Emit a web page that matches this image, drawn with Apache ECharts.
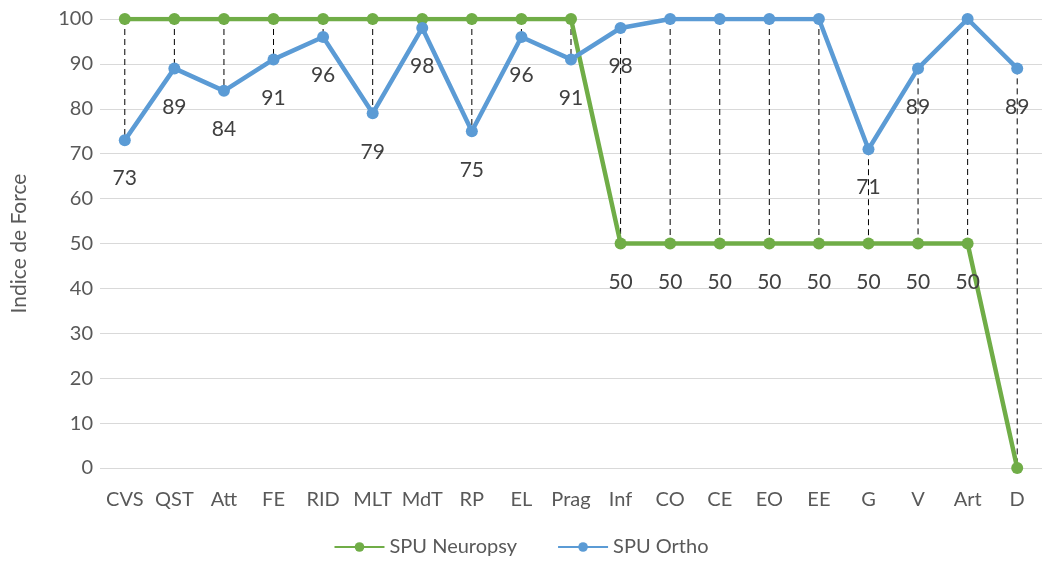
<!DOCTYPE html>
<html><head><meta charset="utf-8">
<script src="https://cdn.jsdelivr.net/npm/echarts@6/dist/echarts.min.js"></script>
<style>html,body{margin:0;padding:0;background:#fff}#c{width:1042px;height:564px}</style>
</head><body><div id="c"></div>
<script>
const categories = ['CVS','QST','Att','FE','RID','MLT','MdT','RP','EL','Prag','Inf','CO','CE','EO','EE','G','V','Art','D'];
const neuropsy = [100,100,100,100,100,100,100,100,100,100,50,50,50,50,50,50,50,50,0];
const ortho = [73,89,84,91,96,79,98,75,96,91,98,100,100,100,100,71,89,100,89];
const yTicks = [0,10,20,30,40,50,60,70,80,90,100];

const FONT = 'Lato, sans-serif';
const TXT = '#595959';
const GREEN = '#70AD47', BLUE = '#5B9BD5';

function withLabels(vals, hide) {
  return vals.map(v => hide.includes(v) ? {value: v, label: {show: false}} : v);
}

const chart = echarts.init(document.getElementById('c'));
chart.setOption({
  animation: false,
  textStyle: {fontFamily: FONT},
  grid: {left: 100, right: 0, top: 19, bottom: 96, containLabel: false},
  legend: {
    bottom: 2, left: 'center', itemWidth: 50, itemHeight: 12, itemGap: 40,
    textStyle: {fontFamily: FONT, fontSize: 20, color: TXT},
    data: ['SPU Neuropsy', 'SPU Ortho']
  },
  xAxis: {
    type: 'category', data: categories, boundaryGap: true,
    axisLine: {show: false}, axisTick: {show: false},
    axisLabel: {fontFamily: FONT, fontSize: 20, color: TXT, margin: 22, interval: 0}
  },
  yAxis: {
    type: 'value', min: yTicks[0], max: yTicks[yTicks.length-1], interval: 10,
    name: 'Indice de Force', nameLocation: 'middle', nameGap: 70, nameRotate: 90,
    nameTextStyle: {fontFamily: FONT, fontSize: 21, color: TXT},
    axisLine: {show: false}, axisTick: {show: false},
    axisLabel: {fontFamily: FONT, fontSize: 20, color: TXT, margin: 7},
    splitLine: {lineStyle: {color: '#D9D9D9', width: 1}}
  },
  series: [
    {
      type: 'custom', name: 'hilo', silent: true, z: 1,
      data: categories.map((c, i) => [i, Math.max(neuropsy[i], ortho[i]), Math.min(neuropsy[i], ortho[i])]),
      encode: {x: 0, y: [1, 2]},
      renderItem: function (params, api) {
        const p1 = api.coord([api.value(0), api.value(1)]);
        const p2 = api.coord([api.value(0), api.value(2)]);
        return {type: 'line', shape: {x1: p1[0], y1: p1[1], x2: p2[0], y2: p2[1]},
          style: {stroke: '#000', lineWidth: 1, lineDash: [6, 4]}};
      }
    },
    {
      name: 'SPU Neuropsy', type: 'line', z: 3,
      data: withLabels(neuropsy, [100, 0]),
      symbol: 'circle', symbolSize: 12,
      lineStyle: {color: GREEN, width: 4.5}, itemStyle: {color: GREEN},
      label: {show: true, position: 'bottom', distance: 22, fontFamily: FONT, fontSize: 21, color: '#404040'}
    },
    {
      name: 'SPU Ortho', type: 'line', z: 4,
      data: withLabels(ortho, [100]),
      symbol: 'circle', symbolSize: 12,
      lineStyle: {color: BLUE, width: 4.5}, itemStyle: {color: BLUE},
      label: {show: true, position: 'bottom', distance: 22, fontFamily: FONT, fontSize: 21, color: '#404040'}
    }
  ]
});
</script></body></html>
